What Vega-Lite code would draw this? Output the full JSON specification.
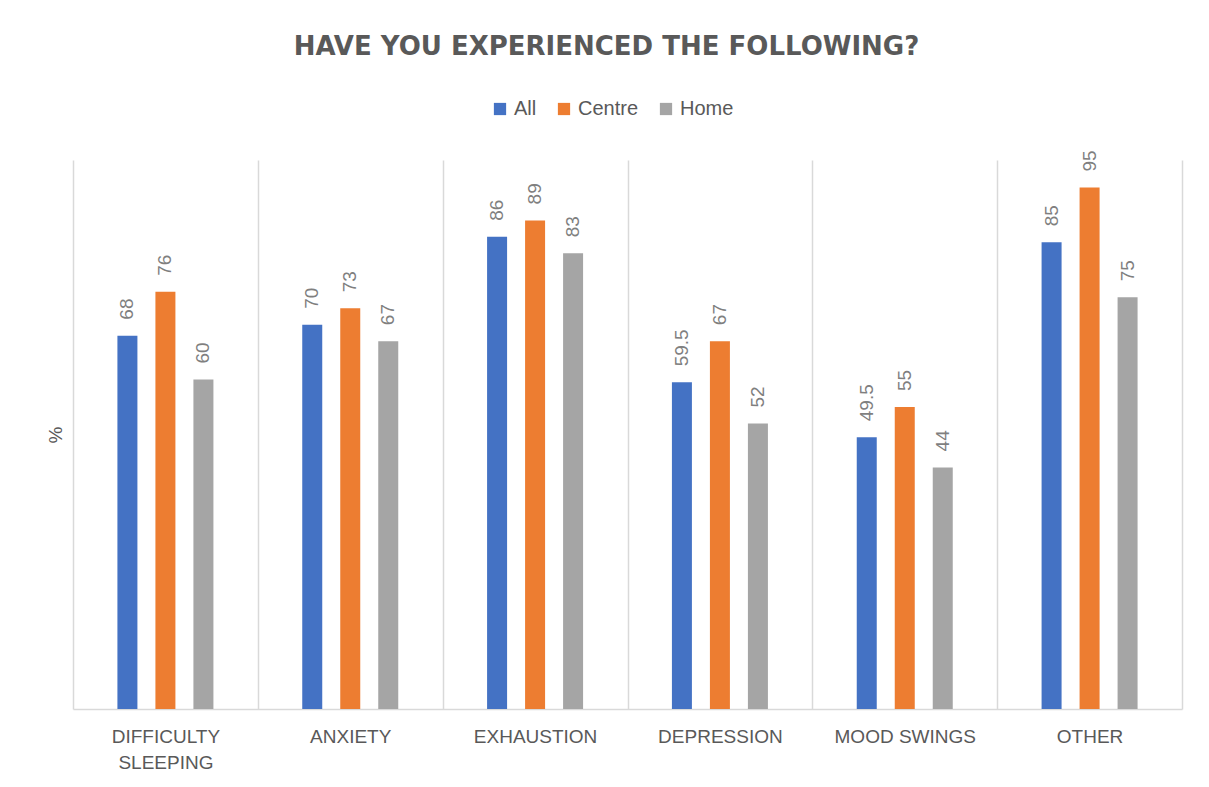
{
  "$schema": "https://vega.github.io/schema/vega-lite/v6.json",
  "width": 1109,
  "height": 549,
  "autosize": {"type": "none"},
  "padding": {"left": 73, "top": 160, "right": 27, "bottom": 78},
  "background": "white",
  "title": {
    "text": "HAVE YOU EXPERIENCED THE FOLLOWING?",
    "font": "DejaVu Sans",
    "fontSize": 26,
    "fontWeight": "bold",
    "color": "#595959",
    "anchor": "middle",
    "dx": -21,
    "offset": 39
  },
  "config": {
    "view": {"stroke": null},
    "font": "Liberation Sans"
  },
  "data": {
    "values": [
      {"category": "DIFFICULTY SLEEPING", "group": "All", "value": 68},
      {"category": "DIFFICULTY SLEEPING", "group": "Centre", "value": 76},
      {"category": "DIFFICULTY SLEEPING", "group": "Home", "value": 60},
      {"category": "ANXIETY", "group": "All", "value": 70},
      {"category": "ANXIETY", "group": "Centre", "value": 73},
      {"category": "ANXIETY", "group": "Home", "value": 67},
      {"category": "EXHAUSTION", "group": "All", "value": 86},
      {"category": "EXHAUSTION", "group": "Centre", "value": 89},
      {"category": "EXHAUSTION", "group": "Home", "value": 83},
      {"category": "DEPRESSION", "group": "All", "value": 59.5},
      {"category": "DEPRESSION", "group": "Centre", "value": 67},
      {"category": "DEPRESSION", "group": "Home", "value": 52},
      {"category": "MOOD SWINGS", "group": "All", "value": 49.5},
      {"category": "MOOD SWINGS", "group": "Centre", "value": 55},
      {"category": "MOOD SWINGS", "group": "Home", "value": 44},
      {"category": "OTHER", "group": "All", "value": 85},
      {"category": "OTHER", "group": "Centre", "value": 95},
      {"category": "OTHER", "group": "Home", "value": 75}
    ]
  },
  "encoding": {
    "x": {
      "field": "category",
      "type": "nominal",
      "sort": ["DIFFICULTY SLEEPING", "ANXIETY", "EXHAUSTION", "DEPRESSION", "MOOD SWINGS", "OTHER"],
      "scale": {"paddingInner": 0, "paddingOuter": 0},
      "axis": {
        "title": null,
        "labelAngle": 0,
        "labelFontSize": 19,
        "labelColor": "#595959",
        "labelPadding": 18,
        "labelLineHeight": 26,
        "labelExpr": "datum.label == 'DIFFICULTY SLEEPING' ? ['DIFFICULTY', 'SLEEPING'] : datum.label",
        "ticks": false,
        "grid": true,
        "gridColor": "#d9d9d9",
        "gridWidth": 1.5,
        "tickBand": "extent",
        "domainColor": "#d9d9d9",
        "domainWidth": 1.5
      }
    },
    "xOffset": {
      "field": "group",
      "type": "nominal",
      "sort": ["All", "Centre", "Home"],
      "scale": {"paddingInner": 0.136, "paddingOuter": 1}
    },
    "y": {
      "field": "value",
      "type": "quantitative",
      "scale": {"domain": [0, 100]},
      "axis": {
        "title": "%",
        "titleFontSize": 19,
        "titleFontWeight": "normal",
        "titleColor": "#595959",
        "titlePadding": 8,
        "labels": false,
        "ticks": false,
        "domain": false,
        "grid": false
      }
    }
  },
  "layer": [
    {
      "mark": {"type": "bar", "width": 20},
      "encoding": {
        "color": {
          "field": "group",
          "type": "nominal",
          "sort": ["All", "Centre", "Home"],
          "scale": {"domain": ["All", "Centre", "Home"], "range": ["#4472C4", "#ED7D31", "#A5A5A5"]},
          "legend": {
            "title": null,
            "orient": "none",
            "legendX": 417,
            "legendY": -61,
            "direction": "horizontal",
            "symbolType": "square",
            "symbolSize": 150,
            "symbolStrokeWidth": 0,
            "labelFontSize": 20,
            "labelColor": "#595959",
            "columnPadding": 17,
            "labelOffset": 4
          }
        }
      }
    },
    {
      "mark": {
        "type": "text",
        "angle": 270,
        "align": "left",
        "baseline": "middle",
        "dx": 16,
        "fontSize": 19,
        "color": "#7f7f7f"
      },
      "encoding": {
        "text": {"field": "value", "type": "quantitative"}
      }
    }
  ]
}
